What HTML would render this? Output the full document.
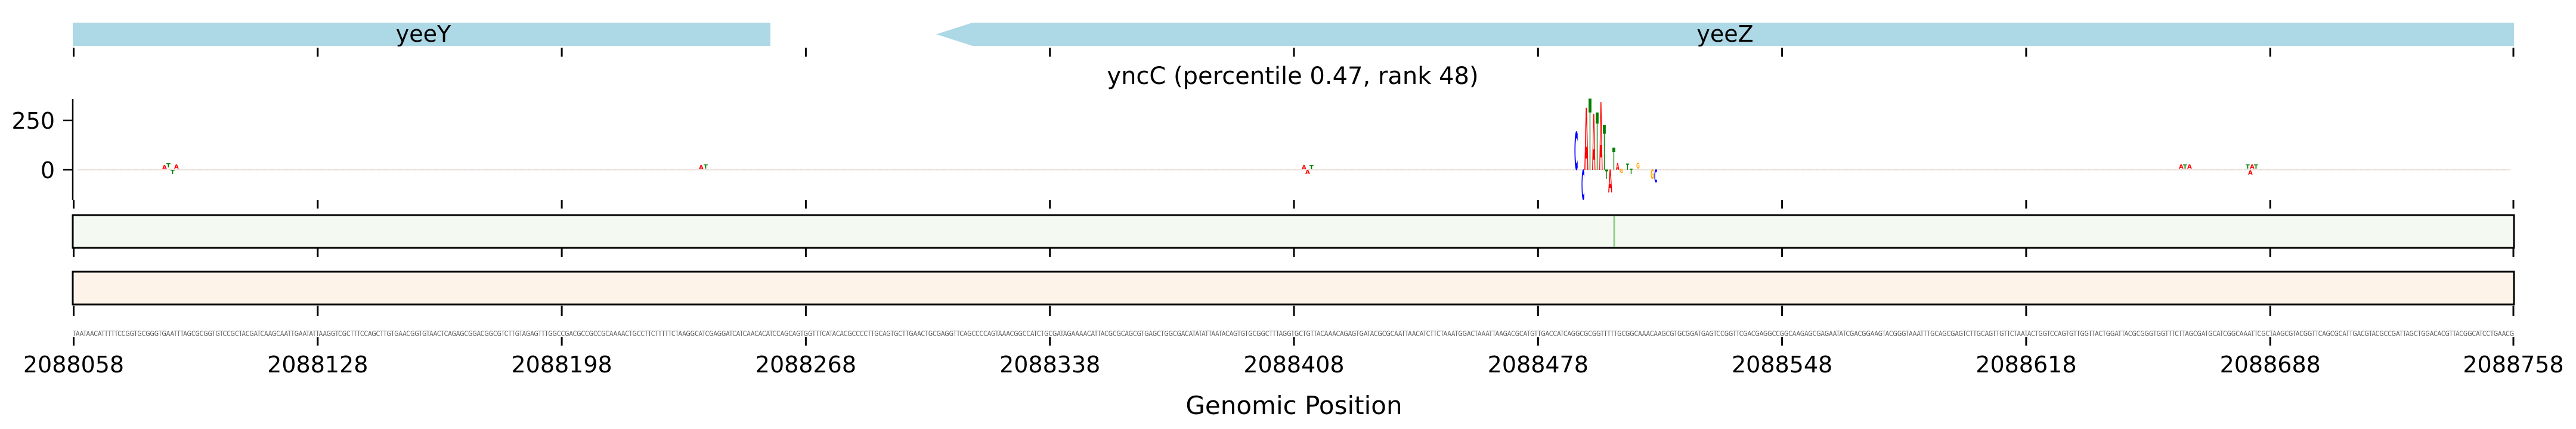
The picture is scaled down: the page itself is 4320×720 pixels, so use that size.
<!DOCTYPE html>
<html><head><meta charset="utf-8"><style>
html,body{margin:0;padding:0;background:#fff;}
svg{display:block;}
text{font-family:"DejaVu Sans","Liberation Sans",sans-serif;}
</style></head><body>
<svg width="4320" height="720" viewBox="0 0 4320 720" xmlns="http://www.w3.org/2000/svg">
<rect x="122" y="38" width="1170" height="39" fill="#add8e6"/>
<text x="710" y="70" font-size="38" text-anchor="middle">yeeY</text>
<polygon points="1570,57.5 1631,38 4216,38 4216,77 1631,77" fill="#add8e6"/>
<text x="2893" y="70" font-size="38" text-anchor="middle">yeeZ</text>
<g stroke="#000" stroke-width="3">
<line x1="123.5" y1="80" x2="123.5" y2="95"/><line x1="532.8" y1="80" x2="532.8" y2="95"/><line x1="942.1" y1="80" x2="942.1" y2="95"/><line x1="1351.4" y1="80" x2="1351.4" y2="95"/><line x1="1760.7" y1="80" x2="1760.7" y2="95"/><line x1="2170" y1="80" x2="2170" y2="95"/><line x1="2579.3" y1="80" x2="2579.3" y2="95"/><line x1="2988.6" y1="80" x2="2988.6" y2="95"/><line x1="3397.9" y1="80" x2="3397.9" y2="95"/><line x1="3807.2" y1="80" x2="3807.2" y2="95"/><line x1="4215" y1="80" x2="4215" y2="95"/>
</g>
<text x="2168" y="141" font-size="40" text-anchor="middle">yncC (percentile 0.47, rank 48)</text>
<line x1="122" y1="166" x2="122" y2="336" stroke="#000" stroke-width="2.5"/>
<line x1="106" y1="202" x2="122" y2="202" stroke="#000" stroke-width="2.5"/>
<line x1="106" y1="285" x2="122" y2="285" stroke="#000" stroke-width="2.5"/>
<text x="92" y="216" font-size="38" text-anchor="end">250</text>
<text x="92" y="299" font-size="38" text-anchor="end">0</text>
<line x1="130" y1="285" x2="4210" y2="285" stroke="#e8d8c8" stroke-width="1.5"/>
<line x1="130" y1="285" x2="4210" y2="285" stroke="#c8c8f0" stroke-width="1" stroke-dasharray="3,9"/>
<g font-weight="bold" font-size="10">
<text x="272" y="284" fill="red">A</text><text x="279" y="281" fill="green">T</text><text x="286" y="292" fill="green">T</text><text x="292" y="283" fill="red">A</text>
<text x="1172" y="284" fill="red">A</text><text x="1180" y="283" fill="green">T</text>
<text x="2183" y="284" fill="red">A</text><text x="2189" y="292" fill="red">A</text><text x="2196" y="284" fill="green">T</text>
<text x="3654" y="283" fill="red">A</text><text x="3661" y="283" fill="green">T</text><text x="3668" y="283" fill="red">A</text>
<text x="3766" y="283" fill="green">T</text><text x="3773" y="283" fill="red">A</text><text x="3780" y="283" fill="green">T</text><text x="3770" y="293" fill="red">A</text>
</g>
<g font-weight="bold" font-size="10" font-family="Liberation Sans, sans-serif">
<text transform="translate(2640,285) scale(0.86,8.75)" fill="blue">C</text>
<text transform="translate(2652,335) scale(0.72,6.9)" fill="blue">C</text>
<text transform="translate(2657,285) scale(0.86,14.3)" fill="red">A</text>
<text transform="translate(2664,285) scale(0.72,16.4)" fill="green">T</text>
<text transform="translate(2670,285) scale(0.72,12.9)" fill="red">A</text>
<text transform="translate(2676,285) scale(0.72,13.2)" fill="green">T</text>
<text transform="translate(2682,285) scale(0.72,15.6)" fill="red">A</text>
<text transform="translate(2688,285) scale(0.72,10.3)" fill="green">T</text>
<text transform="translate(2692,300) scale(0.72,2.1)" fill="green">T</text>
<text transform="translate(2697,323) scale(0.86,5.3)" fill="red">A</text>
<text transform="translate(2704,285) scale(0.72,5.1)" fill="green">T</text>
<text transform="translate(2710,285) scale(0.72,1.5)" fill="red">A</text>
<text transform="translate(2716,290) scale(0.72,1.0)" fill="orange">G</text>
<text transform="translate(2727,285) scale(0.72,1.4)" fill="green">T</text>
<text transform="translate(2733,292) scale(0.72,1.2)" fill="green">T</text>
<text transform="translate(2744,283) scale(0.72,1.3)" fill="orange">G</text>
<text transform="translate(2768,300) scale(0.72,2.1)" fill="orange">G</text>
<text transform="translate(2774,306) scale(0.72,2.9)" fill="blue">C</text>
</g>
<g stroke="#000" stroke-width="3">
<line x1="123.5" y1="336" x2="123.5" y2="350"/><line x1="532.8" y1="336" x2="532.8" y2="350"/><line x1="942.1" y1="336" x2="942.1" y2="350"/><line x1="1351.4" y1="336" x2="1351.4" y2="350"/><line x1="1760.7" y1="336" x2="1760.7" y2="350"/><line x1="2170" y1="336" x2="2170" y2="350"/><line x1="2579.3" y1="336" x2="2579.3" y2="350"/><line x1="2988.6" y1="336" x2="2988.6" y2="350"/><line x1="3397.9" y1="336" x2="3397.9" y2="350"/><line x1="3807.2" y1="336" x2="3807.2" y2="350"/><line x1="4215" y1="336" x2="4215" y2="350"/>
</g>
<rect x="122" y="361" width="4094" height="55" fill="#f4f9f1" stroke="#000" stroke-width="3"/>
<line x1="2707" y1="362" x2="2707" y2="415" stroke="#8fd18a" stroke-width="3"/>
<g stroke="#000" stroke-width="3">
<line x1="123.5" y1="417" x2="123.5" y2="431"/><line x1="532.8" y1="417" x2="532.8" y2="431"/><line x1="942.1" y1="417" x2="942.1" y2="431"/><line x1="1351.4" y1="417" x2="1351.4" y2="431"/><line x1="1760.7" y1="417" x2="1760.7" y2="431"/><line x1="2170" y1="417" x2="2170" y2="431"/><line x1="2579.3" y1="417" x2="2579.3" y2="431"/><line x1="2988.6" y1="417" x2="2988.6" y2="431"/><line x1="3397.9" y1="417" x2="3397.9" y2="431"/><line x1="3807.2" y1="417" x2="3807.2" y2="431"/><line x1="4215" y1="417" x2="4215" y2="431"/>
</g>
<rect x="122" y="456" width="4094" height="55" fill="#fef3e8" stroke="#000" stroke-width="3"/>
<g stroke="#000" stroke-width="3">
<line x1="123.5" y1="513" x2="123.5" y2="530"/><line x1="532.8" y1="513" x2="532.8" y2="530"/><line x1="942.1" y1="513" x2="942.1" y2="530"/><line x1="1351.4" y1="513" x2="1351.4" y2="530"/><line x1="1760.7" y1="513" x2="1760.7" y2="530"/><line x1="2170" y1="513" x2="2170" y2="530"/><line x1="2579.3" y1="513" x2="2579.3" y2="530"/><line x1="2988.6" y1="513" x2="2988.6" y2="530"/><line x1="3397.9" y1="513" x2="3397.9" y2="530"/><line x1="3807.2" y1="513" x2="3807.2" y2="530"/><line x1="4215" y1="513" x2="4215" y2="530"/>
</g>
<text x="122" y="564" font-size="12" fill="#555" textLength="4094" lengthAdjust="spacingAndGlyphs" font-family="Liberation Sans, sans-serif">TAATAACATTTTTCCGGTGCGGGTGAATTTAGCGCGGTGTCCGCTACGATCAAGCAATTGAATATTAAGGTCGCTTTCCAGCTTGTGAACGGTGTAACTCAGAGCGGACGGCGTCTTGTAGAGTTTGGCCGACGCCGCCGCAAAACTGCCTTCTTTTTCTAAGGCATCGAGGATCATCAACACATCCAGCAGTGGTTTCATACACGCCCCTTGCAGTGCTTGAACTGCGAGGTTCAGCCCCAGTAAACGGCCATCTGCGATAGAAAACATTACGCGCAGCGTGAGCTGGCGACATATATTAATACAGTGTGCGGCTTTAGGTGCTGTTACAAACAGAGTGATACGCGCAATTAACATCTTCTAAATGGACTAAATTAAGACGCATGTTGACCATCAGGCGCGGTTTTTGCGGCAAACAAGCGTGCGGATGAGTCCGGTTCGACGAGGCCGGCAAGAGCGAGAATATCGACGGAAGTACGGGTAAATTTGCAGCGAGTCTTGCAGTTGTTCTAATACTGGTCCAGTGTTGGTTACTGGATTACGCGGGTGGTTTCTTAGCGATGCATCGGCAAATTCGCTAAGCGTACGGTTCAGCGCATTGACGTACGCCGATTAGCTGGACACGTTACGGCATCCTGAACG</text>
<g stroke="#000" stroke-width="3">
<line x1="123.5" y1="566" x2="123.5" y2="580"/><line x1="532.8" y1="566" x2="532.8" y2="580"/><line x1="942.1" y1="566" x2="942.1" y2="580"/><line x1="1351.4" y1="566" x2="1351.4" y2="580"/><line x1="1760.7" y1="566" x2="1760.7" y2="580"/><line x1="2170" y1="566" x2="2170" y2="580"/><line x1="2579.3" y1="566" x2="2579.3" y2="580"/><line x1="2988.6" y1="566" x2="2988.6" y2="580"/><line x1="3397.9" y1="566" x2="3397.9" y2="580"/><line x1="3807.2" y1="566" x2="3807.2" y2="580"/><line x1="4215" y1="566" x2="4215" y2="580"/>
</g>
<g font-size="38" text-anchor="middle">
<text x="123.5" y="625">2088058</text><text x="532.8" y="625">2088128</text><text x="942.1" y="625">2088198</text><text x="1351.4" y="625">2088268</text><text x="1760.7" y="625">2088338</text><text x="2170" y="625">2088408</text><text x="2579.3" y="625">2088478</text><text x="2988.6" y="625">2088548</text><text x="3397.9" y="625">2088618</text><text x="3807.2" y="625">2088688</text><text x="4215" y="625">2088758</text>
</g>
<text x="2170" y="695" font-size="42" text-anchor="middle">Genomic Position</text>
</svg>
</body></html>
